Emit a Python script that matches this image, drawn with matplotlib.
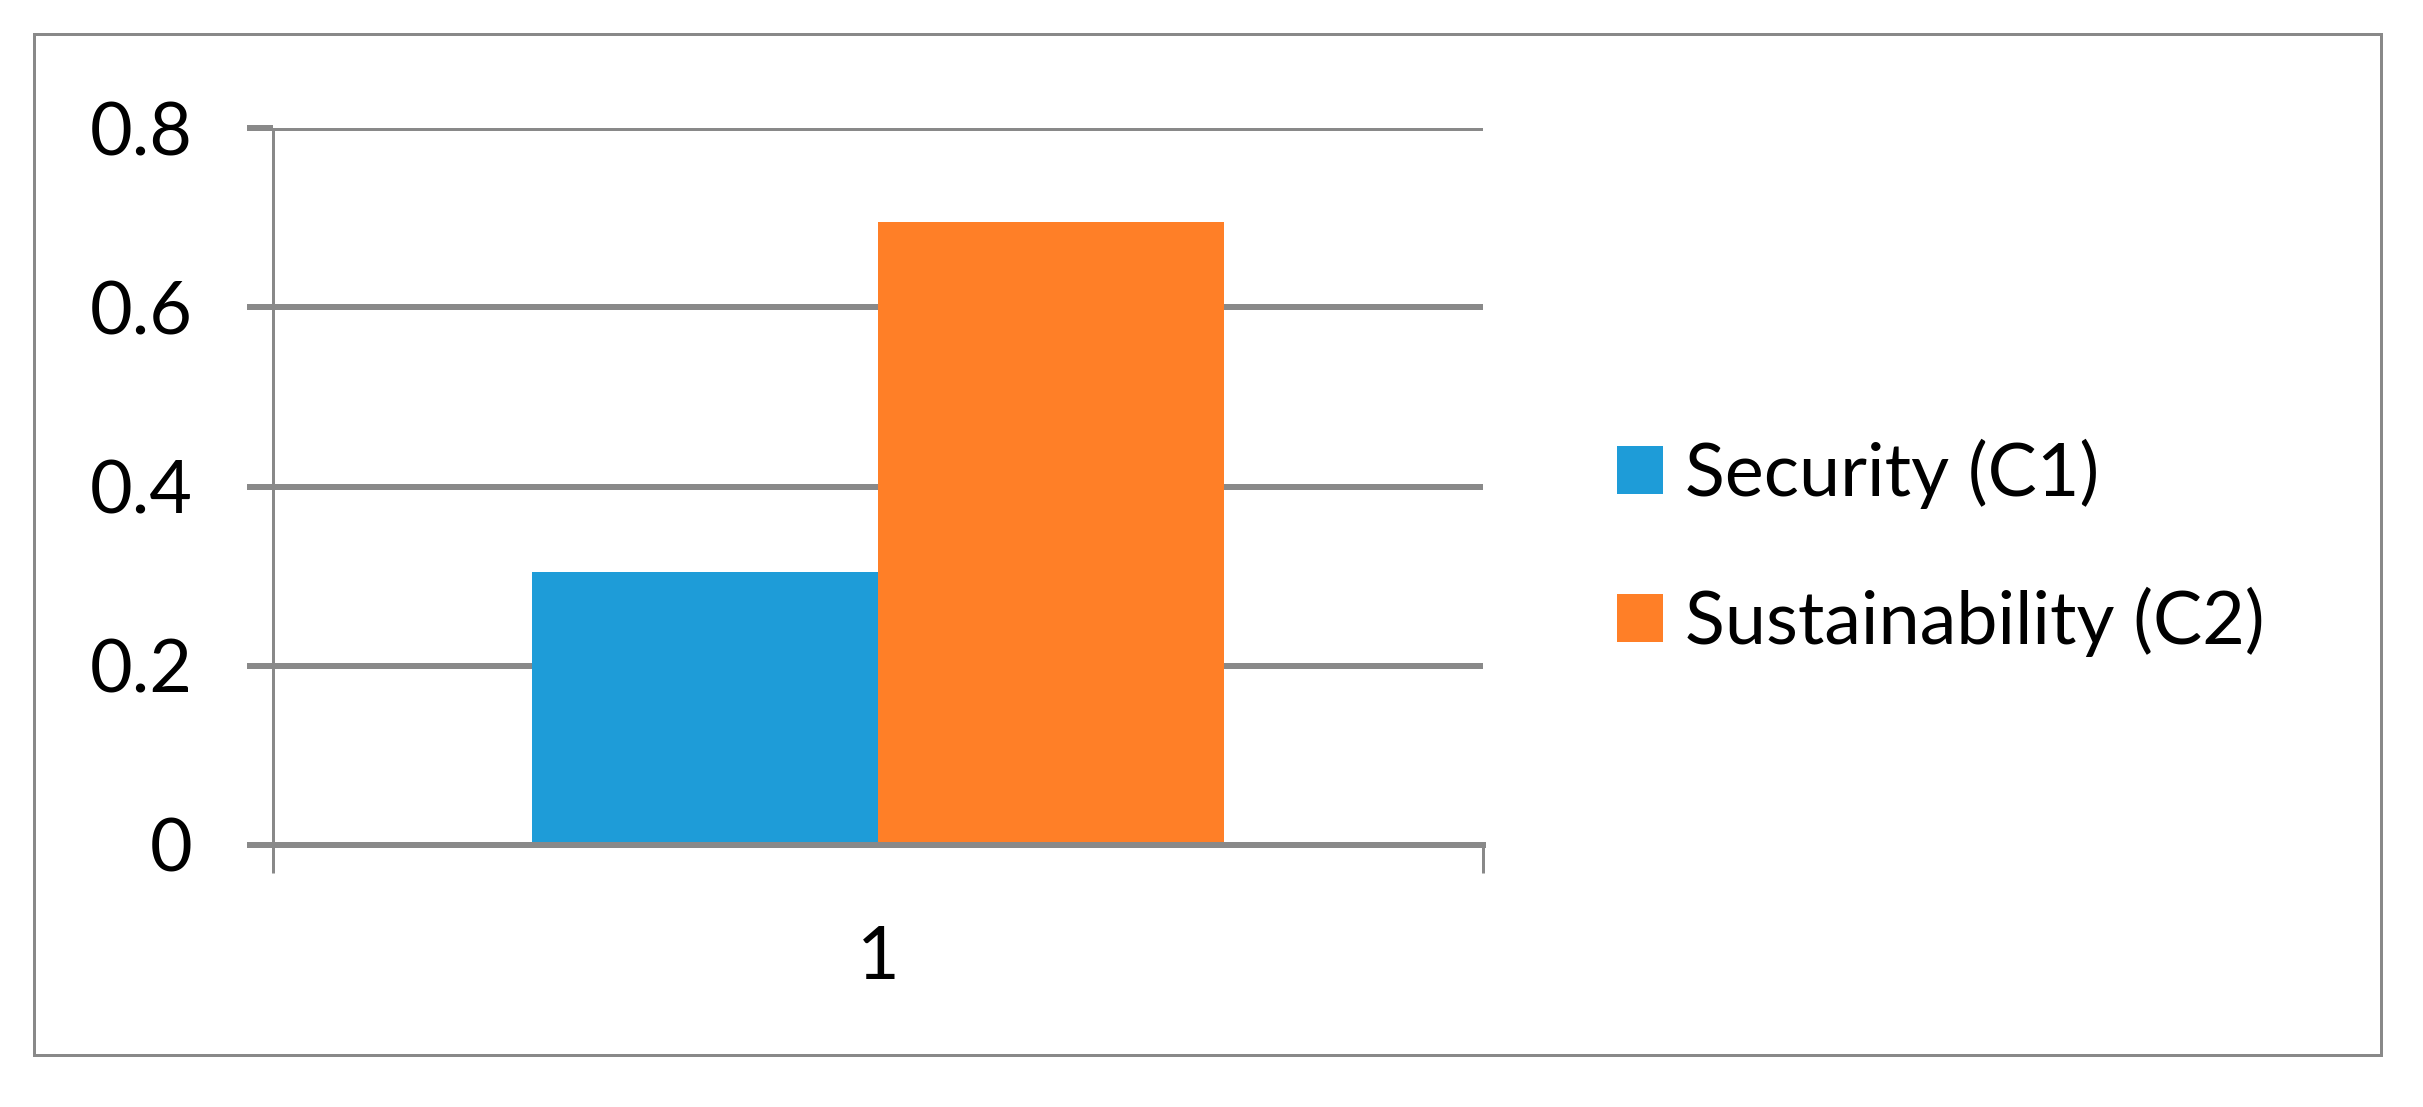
import matplotlib.pyplot as plt
from matplotlib.patches import Rectangle

# data
categories = ['1']
series_names = ['Security (C1)', 'Sustainability (C2)']
series_values = [[0.305], [0.695]]
series_colors = ['#1E9CD8', '#FF7F27']
yticks = [0, 0.2, 0.4, 0.6, 0.8]
ytick_labels = ['0', '0.2', '0.4', '0.6', '0.8']

W, H = 2423, 1107
DPI = 100
PX = 72 / DPI  # points per pixel
grey = '#898989'


def main():
    plt.rcParams['font.family'] = ['Lato', 'DejaVu Sans']
    fontsize = 53

    fig = plt.figure(figsize=(W / DPI, H / DPI), dpi=DPI)
    # outer chart border
    fig.patches.append(Rectangle((34 / W, 1 - 1055 / H), (2381 - 34) / W, (1055 - 34) / H,
                                 transform=fig.transFigure, fill=False,
                                 edgecolor=grey, linewidth=3 * PX))

    left, right, top, bottom = 273, 1483, 128, 845
    ax = fig.add_axes([left / W, 1 - bottom / H, (right - left) / W, (bottom - top) / H])

    bar_w = 0.286
    x = [1]
    for i, (name, vals) in enumerate(zip(series_names, series_values)):
        offs = (i - 0.5) * bar_w
        ax.bar([xi + offs for xi in x], vals, width=bar_w, color=series_colors[i],
               label=name, zorder=3, linewidth=0)

    ax.set_xlim(0.5, 1.5)
    ax.set_ylim(0, 0.8)

    ax.set_yticks(yticks)
    ax.set_yticklabels(ytick_labels)
    ax.yaxis.grid(True, color=grey, linewidth=6 * PX, zorder=1)
    ax.set_axisbelow(True)
    ax.tick_params(axis='y', length=26 * PX, width=6 * PX, color=grey, direction='out',
                   labelsize=fontsize, pad=54 * PX)

    ax.set_xticks(x)
    ax.set_xticklabels(categories)
    ax.tick_params(axis='x', which='major', length=0, labelsize=fontsize, pad=80 * PX)
    ax.set_xticks([0.5, 1.5], minor=True)
    ax.tick_params(axis='x', which='minor', length=28 * PX, width=3 * PX, color=grey,
                   direction='out')

    for s in ['top', 'right']:
        ax.spines[s].set_visible(False)
    ax.spines['left'].set_color(grey)
    ax.spines['left'].set_linewidth(3 * PX)
    ax.spines['left'].set_capstyle('butt')
    ax.spines['bottom'].set_color(grey)
    ax.spines['bottom'].set_linewidth(6 * PX)
    ax.spines['bottom'].set_zorder(4)

    fig.legend(loc='center left', bbox_to_anchor=(1617 / W, 1 - 548 / H),
               frameon=False, fontsize=fontsize, handlelength=0.63, handleheight=0.63,
               handletextpad=0.29, labelspacing=1.06, borderpad=0, borderaxespad=0)

    fig.savefig('out.png', dpi=DPI)


if __name__ == '__main__':
    main()
